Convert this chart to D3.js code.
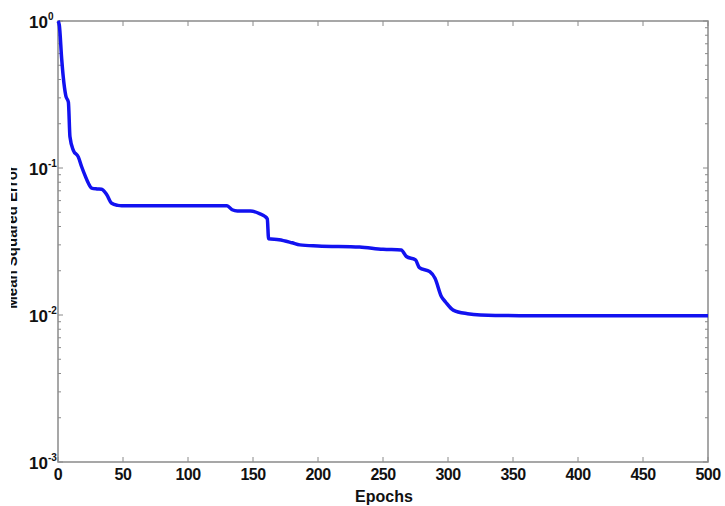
<!DOCTYPE html>
<html><head><meta charset="utf-8">
<script src="https://cdn.jsdelivr.net/npm/d3@7"></script>
<style>body{margin:0;background:#fff}svg{display:block}text{font-family:Arial,"Liberation Sans",sans-serif;font-weight:bold;fill:#111}</style>
</head><body><svg id="c" width="725" height="506"></svg>
<script>
const epochs = [0,1,2.8,4,6,8,9.2,11.8,15.6,18.2,21,23.3,25.9,30,33.6,37.4,41.3,46,49,100,130,134,138,148,155,159,161,162,170,180,186,200,232,250,264,268,275,278,286,290,295,298,304,315,325,355,500];
const mse = [1.0,0.94,0.557,0.42,0.31,0.28,0.163,0.132,0.119,0.102,0.088,0.079,0.073,0.072,0.0716,0.066,0.0575,0.0557,0.0553,0.0553,0.0553,0.052,0.051,0.051,0.049,0.047,0.045,0.033,0.0325,0.031,0.030,0.0295,0.029,0.028,0.0277,0.025,0.0237,0.021,0.0197,0.0178,0.0133,0.0123,0.0108,0.0102,0.0100,0.0099,0.0099];
const xTicks = [0,50,100,150,200,250,300,350,400,450,500];
const yExps = [0,-1,-2,-3];
const xLabel = "Epochs";
const yLabel = "Mean Squared Error";

const svg = d3.select("#c");
const L=58,R=708,T=21,B=462;
const x = d3.scaleLinear().domain([0,500]).range([L,R]);
const y = d3.scaleLog().domain([1e-3,1]).range([B,T]);
const grey="#8a8a8a";

const minor=[];
for(let e=-3;e<0;e++) for(let m=2;m<=9;m++) minor.push(m*Math.pow(10,e));
const g=svg.append("g");
minor.forEach(v=>{
  g.append("line").attr("x1",L).attr("x2",L+3).attr("y1",y(v)).attr("y2",y(v)).attr("stroke",grey).attr("stroke-width",1);
  g.append("line").attr("x1",R).attr("x2",R-3).attr("y1",y(v)).attr("y2",y(v)).attr("stroke",grey).attr("stroke-width",1);
});
yExps.forEach(e=>{
  const v=Math.pow(10,e);
  g.append("line").attr("x1",L).attr("x2",L+5).attr("y1",y(v)).attr("y2",y(v)).attr("stroke",grey);
  g.append("line").attr("x1",R).attr("x2",R-5).attr("y1",y(v)).attr("y2",y(v)).attr("stroke",grey);
  svg.append("text").attr("x",48).attr("y",y(v)+7).attr("text-anchor","end").style("font-size","17px").text("10");
  svg.append("text").attr("x",48).attr("y",y(v)-1).style("font-size","10px").text(String(e));
});
xTicks.forEach(v=>{
  g.append("line").attr("x1",x(v)).attr("x2",x(v)).attr("y1",B).attr("y2",B-5).attr("stroke",grey);
  g.append("line").attr("x1",x(v)).attr("x2",x(v)).attr("y1",T).attr("y2",T+5).attr("stroke",grey);
  svg.append("text").attr("x",x(v)).attr("y",480).attr("text-anchor","middle").style("font-size","16px").style("letter-spacing","-0.5px").text(v);
});
svg.append("rect").attr("x",L).attr("y",T).attr("width",R-L).attr("height",B-T).attr("fill","none").attr("stroke",grey).attr("stroke-width",1.5);

const line=d3.line().x((d,i)=>x(epochs[i])).y((d,i)=>y(mse[i])).curve(d3.curveMonotoneX);
svg.append("path").datum(mse).attr("d",line).attr("fill","none").attr("stroke","#1212f0").attr("stroke-width",3.5).attr("stroke-linejoin","round");

svg.append("text").attr("x",384).attr("y",502).attr("text-anchor","middle").style("font-size","16px").text(xLabel);
svg.append("clipPath").attr("id","yc").append("rect").attr("x",11).attr("y",0).attr("width",20).attr("height",506);
svg.append("g").attr("clip-path","url(#yc)")
  .append("text").attr("transform","translate(17,237) rotate(-90)").attr("text-anchor","middle").style("font-size","15px").text(yLabel);
</script></body></html>
